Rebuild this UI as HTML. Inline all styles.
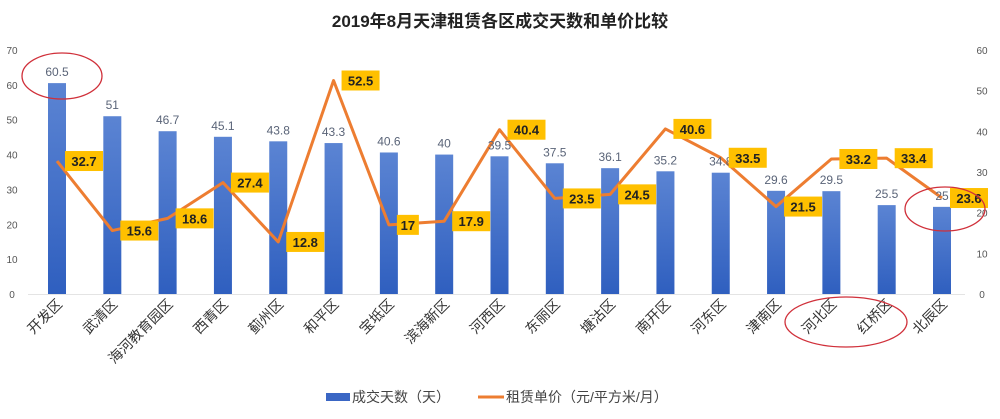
<!DOCTYPE html>
<html><head><meta charset="utf-8"><style>
body{margin:0;background:#fff;width:1000px;height:419px;overflow:hidden}
svg{display:block;font-family:"Liberation Sans","Noto Sans CJK SC",sans-serif}
</style></head><body>
<svg id="chart" width="1000" height="419" viewBox="0 0 1000 419">
<defs><linearGradient id="bg" x1="0" y1="0" x2="0" y2="1"><stop offset="0" stop-color="#5b84d3"/><stop offset="1" stop-color="#2f5fbf"/></linearGradient></defs>
<text x="500" y="27" text-anchor="middle" font-size="17" font-weight="bold" fill="#222">2019年8月天津租赁各区成交天数和单价比较</text>
<g id="axes"></g><g id="bars"></g><g id="line"></g><g id="labels"></g>
<g>
<rect x="326" y="393" width="24" height="8" fill="#3a66c4"/>
<text x="352" y="402" font-size="14" fill="#444">成交天数（天）</text>
<line x1="478" y1="397" x2="504" y2="397" stroke="#ed7d31" stroke-width="3"/>
<text x="506" y="402" font-size="14" fill="#444">租赁单价（元/平方米/月）</text>
</g>
<g fill="none" stroke="#d0303a" stroke-width="1.3">
<ellipse cx="62" cy="76" rx="40" ry="23"/>
<ellipse cx="846" cy="322" rx="61" ry="25"/>
<ellipse cx="945" cy="209" rx="40" ry="22"/>
</g>
</svg>
<script>
const categories=["开发区","武清区","海河教育园区","西青区","蓟州区","和平区","宝坻区","滨海新区","河西区","东丽区","塘沽区","南开区","河东区","津南区","河北区","红桥区","北辰区"];
const days=[60.5,51,46.7,45.1,43.8,43.3,40.6,40,39.5,37.5,36.1,35.2,34.8,29.6,29.5,25.5,25];
const dayLabels=["60.5","51","46.7","45.1","43.8","43.3","40.6","40","39.5","37.5","36.1","35.2","34.8","29.6","29.5","25.5","25"];
const prices=[32.7,15.6,18.6,27.4,12.8,52.5,17,17.9,40.4,23.5,24.5,40.6,33.5,21.5,33.2,33.4,23.6];
const leftTicks=[0,10,20,30,40,50,60,70];
const rightTicks=[0,10,20,30,40,50,60];
const NS="http://www.w3.org/2000/svg";
const y0=294,yTop=50;
const yL=v=>y0-(v/70)*(y0-yTop);
const yR=v=>y0-(v/60)*(y0-yTop);
const xC=i=>57+i*((942-57)/(categories.length-1));
function mk(tag,attrs,parent){const e=document.createElementNS(NS,tag);for(const k in attrs)e.setAttribute(k,attrs[k]);parent.appendChild(e);return e;}
const ax=document.getElementById('axes'),bg=document.getElementById('bars'),lg=document.getElementById('line'),lb=document.getElementById('labels');
leftTicks.forEach(t=>{const e=mk('text',{x:12,y:yL(t)+4,'font-size':10,fill:'#555','text-anchor':'middle'},ax);e.textContent=t;

});
rightTicks.forEach(t=>{const e=mk('text',{x:982,y:yR(t)+4,'font-size':10,fill:'#555','text-anchor':'middle'},ax);e.textContent=t;

});
const base=mk('line',{x1:28,x2:965,y1:y0+0.5,y2:y0+0.5,stroke:'#e4e4e4'},ax);


categories.forEach((c,i)=>{const x=xC(i);
const r=mk('rect',{x:x-9,y:yL(days[i]),width:18,height:y0-yL(days[i]),fill:'url(#bg)'},bg);


const t=mk('text',{x:x,y:yL(days[i])-7,'font-size':12,fill:'#5a6478','text-anchor':'middle'},lb);t.textContent=dayLabels[i];


const xl=mk('text',{x:x+6,y:305,'font-size':14,fill:'#333','text-anchor':'end',transform:`rotate(-45 ${x+6} 305)`},ax);xl.textContent=c;

});
const pts=prices.map((p,i)=>xC(i)+','+yR(p)).join(' ');
const pl=mk('polyline',{points:pts,fill:'none',stroke:'#ed7d31','stroke-width':3,'stroke-linejoin':'round'},lg);


prices.forEach((p,i)=>{const x=xC(i)+8,y=yR(p);const s=String(p);const w=s.length*8+6;
const g=mk('g',{},lb);


mk('rect',{x:x,y:y-10,width:w,height:20,fill:'#ffc000'},g);
const t=mk('text',{x:x+w/2,y:y+5,'font-size':13,'font-weight':'bold',fill:'#222','text-anchor':'middle'},g);t.textContent=s;});
</script>
</body></html>
